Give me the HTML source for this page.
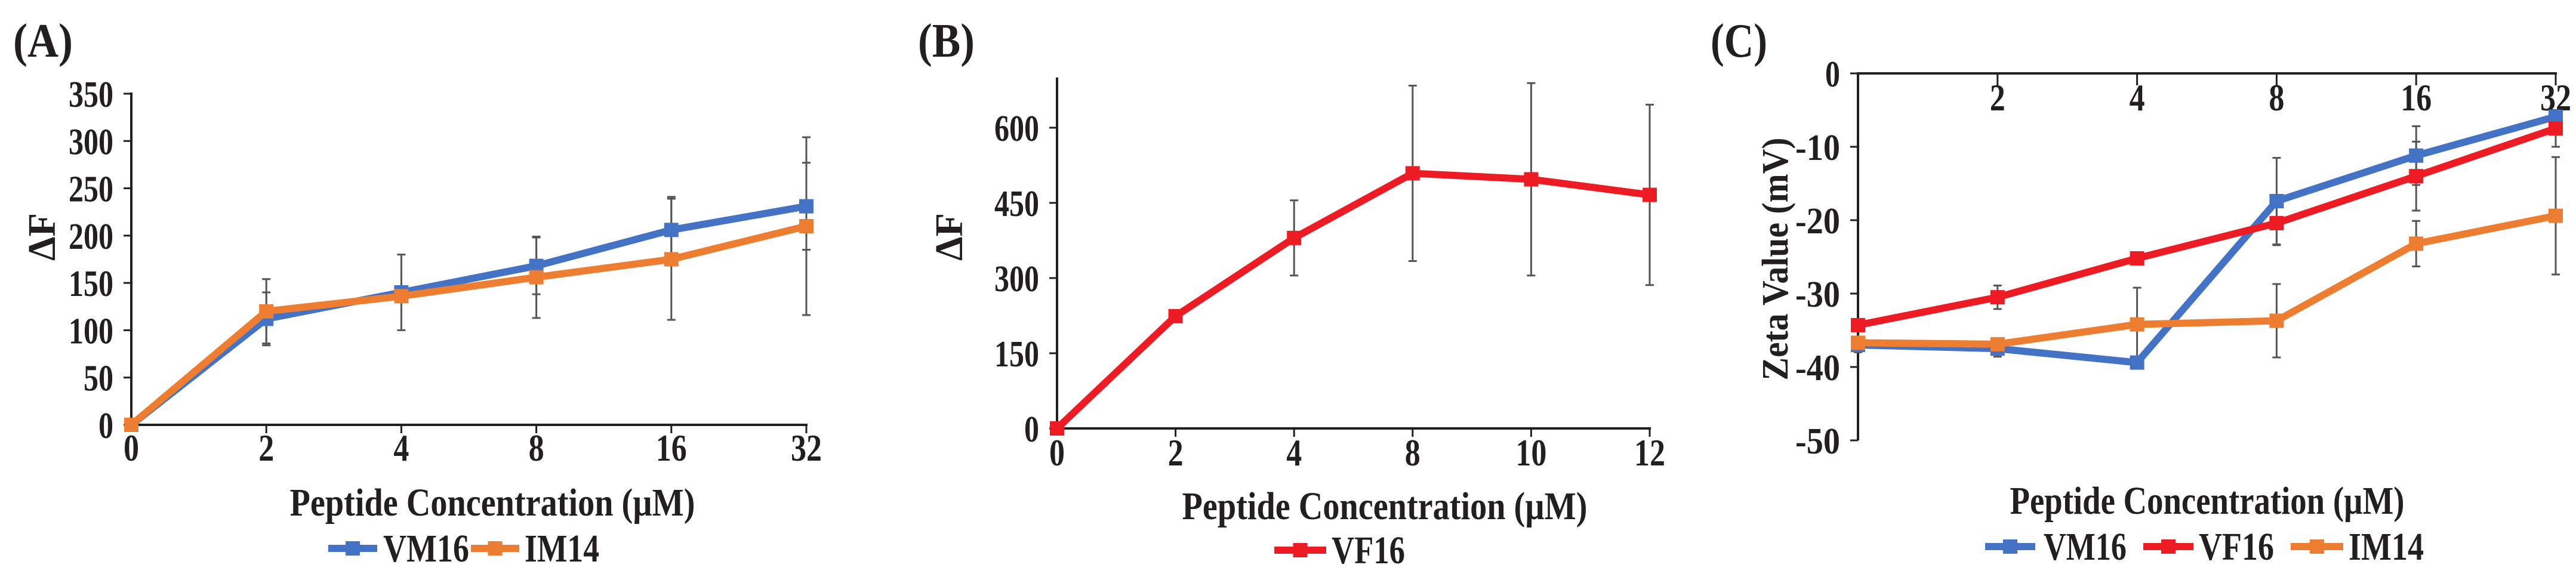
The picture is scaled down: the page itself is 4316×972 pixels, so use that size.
<!DOCTYPE html>
<html><head><meta charset="utf-8"><style>
html,body{margin:0;padding:0;background:#fff;}
svg text{font-family:"Liberation Serif",serif;font-weight:bold;fill:#231f20;}
</style></head><body>
<svg id="fig" width="4316" height="967" viewBox="0 0 4316 967" xmlns="http://www.w3.org/2000/svg"></svg>
<script>
// ---------- Data ----------
const catsA = ["0","2","4","8","16","32"];
const vm16A = [0,112,140,168,206,231];
const vm16AErr = [0,28,40,30,35,46];
const im14A = [0,120,136,156,175,210];
const im14AErr = [0,34,0,43,64,94];
const ticksA = [0,50,100,150,200,250,300,350];

const catsB = ["0","2","4","8","10","12"];
const vf16B = [0,224,380,509,497,466];
const vf16BErr = [0,0,75,175,192,180];
const ticksB = [0,150,300,450,600];

const catsC = ["","2","4","8","16","32"];
const vm16C = [-37,-37.5,-39.4,-17.4,-11.2,-5.9];
const vm16CErr = [1,1.1,0,5.9,4,0];
const vf16C = [-34.3,-30.5,-25.2,-20.4,-14,-7.5];
const vf16CErr = [0.8,1.6,0,3,4.7,2.5];
const im14C = [-36.7,-36.9,-34.2,-33.7,-23.2,-19.4];
const im14CErr = [0.8,0,5,5,3.1,8];
const ticksC = [0,-10,-20,-30,-40,-50];

const BLUE="#4472c4", ORANGE="#ed7d31", RED="#ed1c24";
const NS="http://www.w3.org/2000/svg";
const svg=document.getElementById('fig');

function el(tag,attrs,parent){const e=document.createElementNS(NS,tag);for(const k in attrs)e.setAttribute(k,attrs[k]);(parent||svg).appendChild(e);return e;}
function txt(s,x,y,fs,anchor,len,parent){const t=el('text',{x:x,y:y,'font-size':fs,'text-anchor':anchor||'start'},parent);if(len){t.setAttribute('textLength',len);t.setAttribute('lengthAdjust','spacingAndGlyphs');}t.textContent=s;return t;}

function panel(cfg){
  const g=el('g',{});
  
  
  const n=cfg.cats.length;
  const xs=i=>cfg.x0+(cfg.x1-cfg.x0)*i/(n-1);
  const ys=v=>cfg.yZero+(cfg.yMax-cfg.yZero)*(v-cfg.vZero)/(cfg.vMax-cfg.vZero);
  const ya=el('line',{x1:cfg.x0,x2:cfg.x0,y1:cfg.yTop,y2:cfg.yBot,stroke:'#231f20','stroke-width':4},g);
  
  const xa=el('line',{x1:cfg.x0-2,x2:cfg.x1+2,y1:cfg.xAxisY,y2:cfg.xAxisY,stroke:'#231f20','stroke-width':4},g);
  
  cfg.ticks.forEach(v=>{
    const y=ys(v);
    el('line',{x1:cfg.x0-13,x2:cfg.x0,y1:y,y2:y,stroke:'#231f20','stroke-width':3},g);
    const s=String(v);
    const t=txt(s,cfg.x0-30,y+22,62,'end',s.length*25,g);
    
  });
  cfg.cats.forEach((c,i)=>{
    const x=xs(i);
    if(i>0) el('line',{x1:x,x2:x,y1:cfg.xAxisY,y2:cfg.xAxisY+(cfg.top?20:14),stroke:'#231f20','stroke-width':3},g);
    if(c!==""){const t=txt(c,x,cfg.xLabY,64,'middle',c.length*26,g);
    }
  });
  cfg.series.forEach(s=>{
    s.vals.forEach((v,i)=>{
      const e=s.err[i]; if(!e) return;
      const x=xs(i),a=ys(v+e),b=ys(v-e);
      const eb=el('path',{d:`M${x},${a}V${b}M${x-7},${a}H${x+7}M${x-7},${b}H${x+7}`,stroke:'#555','stroke-width':3,fill:'none'},g);
      
    });
  });
  cfg.series.forEach(s=>{
    const pts=s.vals.map((v,i)=>xs(i)+','+ys(v)).join(' ');
    const pl=el('polyline',{points:pts,fill:'none',stroke:s.color,'stroke-width':12,'stroke-linejoin':'round'},g);
    
    s.vals.forEach((v,i)=>{
      const r=el('rect',{x:xs(i)-12,y:ys(v)-12,width:24,height:24,fill:s.color},g);
      
    });
  });
  return g;
}

panel({name:'panel-a',cats:catsA,x0:220,x1:1351,yZero:712,yMax:157,vZero:0,vMax:350,yTop:155,yBot:712,xAxisY:712,xLabY:772,ticks:ticksA,
  series:[{key:'vm16',vals:vm16A,err:vm16AErr,color:BLUE},{key:'im14',vals:im14A,err:im14AErr,color:ORANGE}]});
panel({name:'panel-b',cats:catsB,x0:1771,x1:2764,yZero:718,yMax:214,vZero:0,vMax:600,yTop:130,yBot:718,xAxisY:718,xLabY:780,ticks:ticksB,
  series:[{key:'vf16',vals:vf16B,err:vf16BErr,color:RED}]});
panel({name:'panel-c',cats:catsC,x0:3113,x1:4282,yZero:123,yMax:738,vZero:0,vMax:-50,yTop:123,yBot:738,xAxisY:123,xLabY:185,top:true,ticks:ticksC,
  series:[{key:'vm16',vals:vm16C,err:vm16CErr,color:BLUE},{key:'vf16',vals:vf16C,err:vf16CErr,color:RED},{key:'im14',vals:im14C,err:im14CErr,color:ORANGE}]});

let t;
t=txt('(A)',22,95,80,'start',100);
t=txt('(B)',1538,95,80,'start',95);
t=txt('(C)',2866,95,80,'start',95);

t=txt('Peptide Concentration (µM)',825,864,66,'middle',679);
t=txt('Peptide Concentration (µM)',2320,870,66,'middle',679);
t=txt('Peptide Concentration (µM)',3698,861,66,'middle',661);

function vtitle(s,cx,cy,len,name,fs){const t=txt(s,0,0,fs,'middle',len);t.setAttribute('transform',`translate(${cx},${cy}) rotate(-90)`);t.setAttribute('dy','22');
}
vtitle('ΔF',70,397,80,'y-axis-title-a',66);
vtitle('ΔF',1590,397,80,'y-axis-title-b',66);
vtitle('Zeta Value (mV)',2973,434,407,'y-axis-title-c',62);

function legend(x1,x2,tx,txt2,len,y,color,name){
  const g=el('g',{});
  
  el('line',{x1:x1,x2:x2,y1:y-22,y2:y-22,stroke:color,'stroke-width':12},g);
  el('rect',{x:(x1+x2)/2-12,y:y-34,width:24,height:24,fill:color},g);
  txt(txt2,tx,y,66,'start',len,g);
}
legend(550,632,642,'VM16',144,941,BLUE,'legend-vm16-a');
legend(789,870,879,'IM14',125,941,ORANGE,'legend-im14-a');
legend(2135,2222,2231,'VF16',123,944,RED,'legend-vf16-b');
legend(3326,3410,3424,'VM16',139,938,BLUE,'legend-vm16-c');
legend(3591,3675,3684,'VF16',126,938,RED,'legend-vf16-c');
legend(3838,3926,3935,'IM14',126,938,ORANGE,'legend-im14-c');
</script>
</body></html>
